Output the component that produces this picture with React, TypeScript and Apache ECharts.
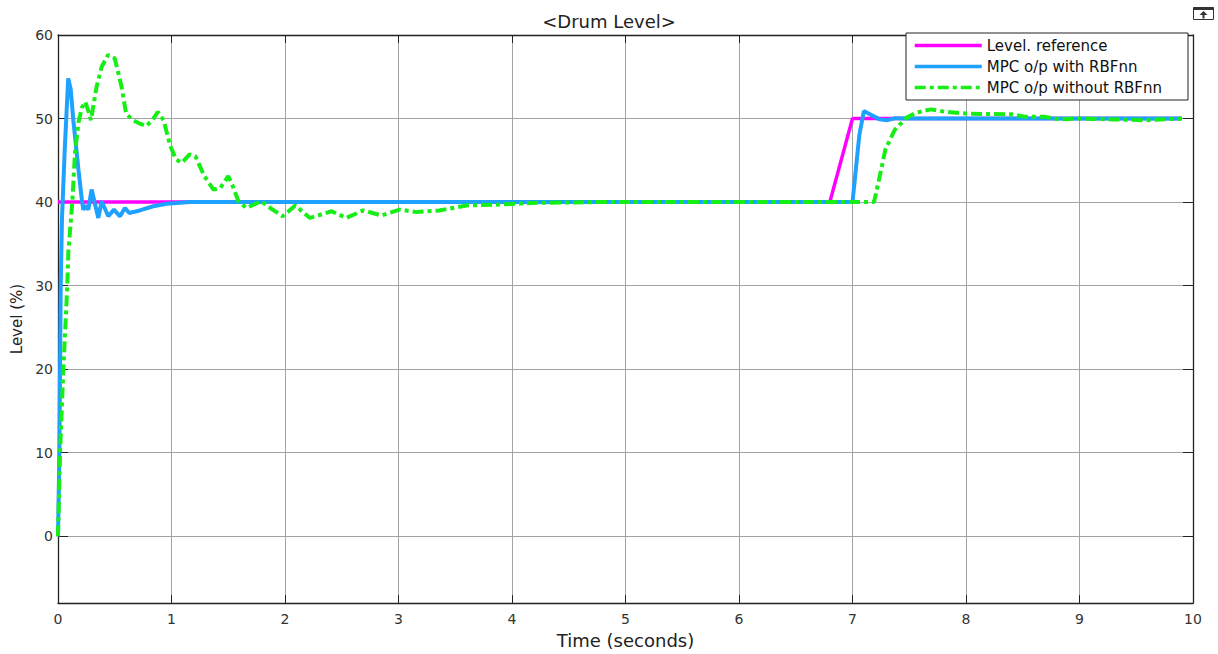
import React, { useEffect, useRef } from "react";
import * as echarts from "echarts";

const chartTitle = "<Drum Level>";
const xName = "Time (seconds)";
const yName = "Level (%)";
const seriesNames = ["Level. reference", "MPC o/p with RBFnn", "MPC o/p without RBFnn"];
const levelTicks = [0, 10, 20, 30, 40, 50, 60];

const refTime = [0, 6.8, 7.0, 9.9];
const refLevel = [40, 40, 50, 50];

const rbfTime = [
  0, 0.012, 0.024, 0.035, 0.06, 0.09, 0.112, 0.135, 0.18, 0.21, 0.223, 0.245, 0.267, 0.296,
  0.355, 0.385, 0.443, 0.493, 0.546, 0.59, 0.628, 0.72, 0.84, 0.957, 1.16, 1.5, 3, 5,
  7.0, 7.03, 7.06, 7.1, 7.17, 7.24, 7.3, 7.38, 7.5, 8, 9, 9.9,
];
const rbfLevel = [
  0, 10, 30, 38, 46.5, 54.8, 53.5, 49.8, 43.9, 40.3, 39.1, 39.6, 39.1, 41.5,
  38.1, 40.1, 38.3, 39.1, 38.3, 39.3, 38.7, 39.0, 39.5, 39.8, 40.0, 40, 40, 40,
  40, 44, 48, 50.9, 50.4, 49.9, 49.8, 50.05, 50, 50, 50, 50,
];

const noRbfTime = [
  0, 0.018, 0.047, 0.082, 0.091, 0.126, 0.15, 0.18, 0.21, 0.24, 0.265, 0.29, 0.34, 0.385,
  0.44, 0.5, 0.56, 0.6, 0.66, 0.72, 0.78, 0.84, 0.88, 0.93, 0.99, 1.04, 1.09, 1.16, 1.21,
  1.29, 1.37, 1.43, 1.5, 1.54, 1.59, 1.66, 1.79, 1.88, 1.98, 2.09, 2.22, 2.41, 2.54, 2.69,
  2.85, 3.01, 3.16, 3.36, 3.6, 3.89, 4.18, 4.74, 7.19, 7.24, 7.29, 7.37, 7.47, 7.56, 7.69,
  7.82, 8.0, 8.17, 8.41, 8.53, 8.7, 8.82, 9.0, 9.29, 9.58, 9.9,
];
const noRbfLevel = [
  0, 10, 20, 30, 34, 40, 45.9, 49.5, 51.3, 52, 51, 49.8, 53.8, 56.2,
  57.6, 57.2, 53.8, 50.6, 49.8, 49.4, 49.1, 50.0, 50.8, 49.8, 46.7, 45.1, 44.7, 45.7, 45.5,
  43.1, 41.5, 41.7, 43.1, 41.9, 40.1, 39.3, 40.1, 39.2, 38.3, 39.6, 38.1, 38.9, 38.1, 39.0,
  38.4, 39.1, 38.8, 39.0, 39.6, 39.7, 39.9, 40.0, 40, 43.1, 46.3, 48.6, 50.05, 50.7, 51.1,
  50.8, 50.6, 50.55, 50.5, 50.2, 50.2, 49.9, 50, 49.9, 49.8, 50,
];

const zip = (t: number[], v: number[]) => t.map((x, i) => [x, v[i]]);

const FONT = "DejaVu Sans";

export default function App() {
  const ref = useRef<HTMLDivElement>(null);
  useEffect(() => {
    document.body.style.margin = "0";
    if (!ref.current) return;
    const chart = echarts.init(ref.current, null, { renderer: "svg" });
    const axisLineStyle = { color: "#222", width: 1.3 };
    const baseX = {
      type: "value",
      min: 0,
      max: 10,
      interval: 1,
      axisLine: { show: true, onZero: false, lineStyle: axisLineStyle },
      axisTick: { show: true, inside: true, length: 8, lineStyle: { color: "#222", width: 1 } },
    };
    const baseY = {
      type: "value",
      min: -8,
      max: 60,
      axisLine: { show: true, onZero: false, lineStyle: axisLineStyle },
      axisTick: { show: true, inside: true, length: 10, customValues: levelTicks, lineStyle: { color: "#222", width: 1 } },
    };
    chart.setOption({
      animation: false,
      backgroundColor: "#ffffff",
      title: {
        text: chartTitle,
        left: "center",
        top: 7,
        textStyle: { fontFamily: FONT, fontSize: 18, fontWeight: "normal", color: "#222" },
      },
      grid: { left: 58, right: 25, top: 35, bottom: 49, containLabel: false },
      legend: {
        orient: "vertical",
        left: 906,
        top: 33,
        padding: [5, 26, 5, 7],
        itemWidth: 67,
        itemHeight: 14,
        itemGap: 6,
        backgroundColor: "#ffffff",
        borderColor: "#222",
        borderWidth: 1,
        borderRadius: 0,
        itemStyle: { opacity: 0 },
        lineStyle: { width: 3.5 },
        textStyle: { fontFamily: FONT, fontSize: 15, color: "#111" },
        data: seriesNames,
      },
      xAxis: [
        {
          ...baseX,
          position: "bottom",
          name: xName,
          nameLocation: "middle",
          nameGap: 26,
          nameTextStyle: { fontFamily: FONT, fontSize: 18, color: "#222" },
          axisLabel: { margin: 9, fontFamily: FONT, fontSize: 14, color: "#333" },
          splitLine: { show: true, lineStyle: { color: "#a3a3a3", width: 1 } },
        },
        {
          ...baseX,
          position: "top",
          axisLabel: { show: false },
          splitLine: { show: false },
        },
      ],
      yAxis: [
        {
          ...baseY,
          position: "left",
          name: yName,
          nameLocation: "middle",
          nameGap: 33,
          nameTextStyle: { fontFamily: FONT, fontSize: 15, color: "#222" },
          axisLabel: { margin: 5, customValues: levelTicks, fontFamily: FONT, fontSize: 14, color: "#333" },
          splitLine: { show: true, lineStyle: { color: "#a3a3a3", width: 1 } },
        },
        {
          ...baseY,
          position: "right",
          axisLabel: { show: false },
          splitLine: { show: false },
        },
      ],
      graphic: [
        {
          type: "group",
          children: [
            { type: "rect", shape: { x: 1193.5, y: 7.5, width: 20, height: 12 }, style: { fill: "#fff", stroke: "#333", lineWidth: 1 } },
            { type: "rect", shape: { x: 1193.5, y: 7.5, width: 20, height: 2.5 }, style: { fill: "#333" } },
            { type: "polygon", shape: { points: [[1203.5, 11], [1199.5, 15], [1207.5, 15]] }, style: { fill: "#333" } },
            { type: "rect", shape: { x: 1202.5, y: 15, width: 2, height: 3.5 }, style: { fill: "#333" } },
          ],
        },
      ],
      series: [
        {
          name: seriesNames[0],
          type: "line",
          symbol: "none",
          data: zip(refTime, refLevel),
          lineStyle: { color: "#ff00ff", width: 3.5 },
          itemStyle: { color: "#ff00ff" },
        },
        {
          name: seriesNames[1],
          type: "line",
          symbol: "none",
          data: zip(rbfTime, rbfLevel),
          lineStyle: { color: "#1ea1ff", width: 4 },
          itemStyle: { color: "#1ea1ff" },
        },
        {
          name: seriesNames[2],
          type: "line",
          symbol: "none",
          data: zip(noRbfTime, noRbfLevel),
          lineStyle: { color: "#16ee16", width: 4, type: [11, 4, 4, 4] },
          itemStyle: { color: "#16ee16" },
        },
      ],
    });
    return () => chart.dispose();
  }, []);
  return <div ref={ref} style={{ width: 1218, height: 654 }} />;
}
